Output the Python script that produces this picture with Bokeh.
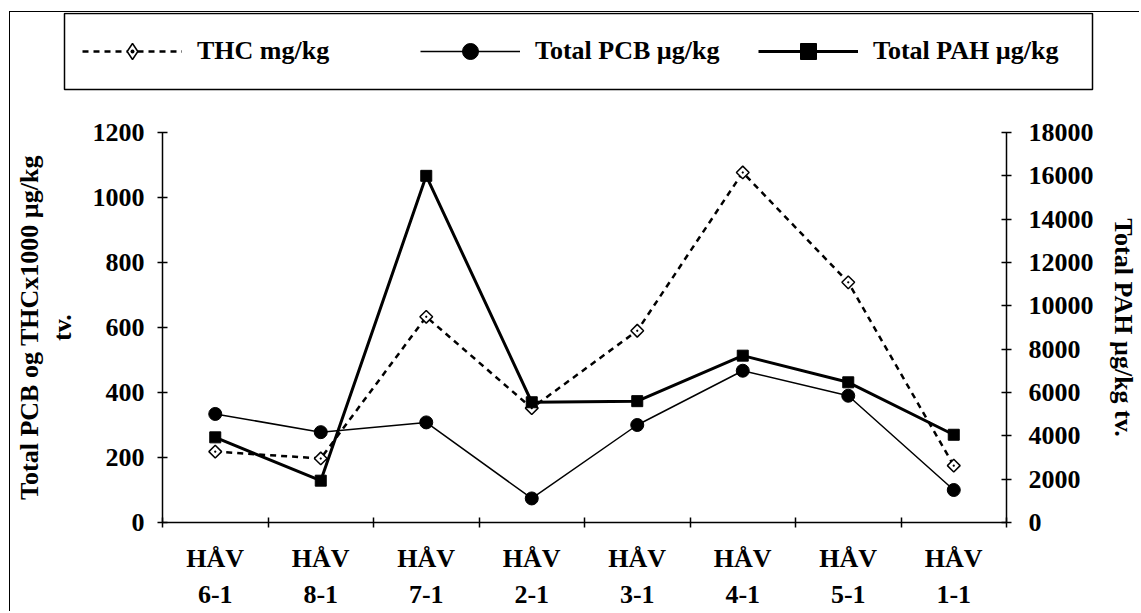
import math
from bokeh.plotting import figure
from bokeh.models import Range1d, LinearAxis, FixedTicker, Legend, LegendItem
from bokeh.embed import file_html
from bokeh.resources import INLINE

# ---- data ----
site_prefix = ["HÅV"] * 8
site_ids = ["6-1", "8-1", "7-1", "2-1", "3-1", "4-1", "5-1", "1-1"]
thc = [218, 197, 633, 352, 590, 1077, 739, 175]          # left axis (THC x1000)
pcb = [334, 278, 308, 74, 300, 467, 390, 100]             # left axis
pah = [3930, 1930, 16000, 5550, 5600, 7700, 6470, 4050]   # right axis
left_ticks = [0, 200, 400, 600, 800, 1000, 1200]
right_ticks = [0, 2000, 4000, 6000, 8000, 10000, 12000, 14000, 16000, 18000]
legend_labels = ["THC mg/kg", "Total PCB µg/kg", "Total PAH µg/kg"]

FONT = "Liberation Serif"
FS = "26px"
W = 1130

n = len(site_ids)
xs = [i + 0.5 for i in range(n)]

p = figure(width=W, height=499,
           x_range=Range1d(0, n), y_range=Range1d(left_ticks[0], left_ticks[-1]),
           output_backend="svg", toolbar_location=None,
           min_border_left=152, min_border_right=127,
           min_border_top=20, min_border_bottom=89)
p.outline_line_color = None
p.xgrid.grid_line_color = None
p.ygrid.grid_line_color = None
p.extra_y_ranges = {"pah": Range1d(right_ticks[0], right_ticks[-1])}
p.styles = {"margin-left": "9px", "border-left": "1.5px solid black"}


def style_axis(ax):
    ax.axis_line_color = "black"
    ax.axis_line_width = 1.5
    ax.major_tick_line_color = "black"
    ax.major_tick_line_width = 1.5
    ax.minor_tick_line_color = "black"
    ax.minor_tick_line_width = 1.5
    ax.major_label_text_font = FONT
    ax.major_label_text_font_style = "bold"
    ax.major_label_text_font_size = FS
    ax.major_label_text_color = "black"
    ax.axis_label_text_font = FONT
    ax.axis_label_text_font_style = "bold"
    ax.axis_label_text_font_size = FS
    ax.axis_label_text_color = "black"


# x axis (first line of category labels): ticks at category boundaries
xa = p.xaxis[0]
style_axis(xa)
xa.ticker = FixedTicker(ticks=xs, minor_ticks=list(range(n + 1)))
xa.major_label_overrides = {x: c for x, c in zip(xs, site_prefix)}
xa.major_tick_in = 0
xa.major_tick_out = 0
xa.major_tick_line_color = None
xa.minor_tick_in = 5
xa.minor_tick_out = 5
xa.major_label_standoff = 16

# second line of category labels
xb = LinearAxis()
style_axis(xb)
xb.axis_line_color = None
xb.ticker = FixedTicker(ticks=xs, minor_ticks=[])
xb.major_label_overrides = {x: c for x, c in zip(xs, site_ids)}
xb.major_tick_in = 0
xb.major_tick_out = 0
xb.major_tick_line_color = None
xb.minor_tick_line_color = None
xb.major_label_standoff = 10
p.add_layout(xb, "below")

# left axis
ya = p.yaxis[0]
style_axis(ya)
ya.ticker = FixedTicker(ticks=left_ticks, minor_ticks=[])
ya.major_tick_in = 5
ya.major_tick_out = 5
ya.major_label_standoff = 13
ya.axis_label = "Total PCB og THCx1000 µg/kg\ntv."
ya.axis_label_standoff = 13
ya.axis_label_text_line_height = 1.13

# right axis
ra = LinearAxis(y_range_name="pah")
style_axis(ra)
ra.ticker = FixedTicker(ticks=right_ticks, minor_ticks=[])
ra.major_tick_in = 5
ra.major_tick_out = 5
ra.major_label_standoff = 17
ra.axis_label = "Total PAH µg/kg tv."
ra.axis_label_standoff = 12
p.add_layout(ra, "right")

# series
THC_STYLE = dict(line_color="black", line_width=2.5, line_dash="6 5")
THC_PT = dict(marker="square_dot", size=9, angle=math.pi / 4,
              fill_color="white", line_color="black", line_width=1.5)
PCB_STYLE = dict(line_color="black", line_width=1.5)
PCB_PT = dict(marker="circle", size=13, color="black")
PAH_STYLE = dict(line_color="black", line_width=3)
PAH_PT = dict(marker="square", size=11, color="black")

p.line(xs, thc, **THC_STYLE)
p.scatter(xs, thc, **THC_PT)
p.line(xs, pcb, **PCB_STYLE)
p.scatter(xs, pcb, **PCB_PT)
p.line(xs, pah, y_range_name="pah", **PAH_STYLE)
p.scatter(xs, pah, y_range_name="pah", **PAH_PT)

# ---- legend strip (separate root so the box can sit left of the plot frame) ----
LH = 101
lf = figure(width=W, height=LH, x_range=Range1d(0, W), y_range=Range1d(0, LH),
            output_backend="svg", toolbar_location=None,
            x_axis_type=None, y_axis_type=None,
            min_border_left=0, min_border_right=0, min_border_top=0, min_border_bottom=0)
lf.outline_line_color = None
lf.xgrid.grid_line_color = None
lf.ygrid.grid_line_color = None
lf.styles = {"margin-left": "9px", "margin-top": "11px",
             "border-left": "1.5px solid black", "border-top": "1.5px solid black"}
NAN = [math.nan]
LEG_THC_PT = dict(marker="diamond_dot", size=13, fill_color="white",
                  line_color="black", line_width=1.5)
l1 = lf.line(NAN, NAN, **THC_STYLE)
s1 = lf.scatter(NAN, NAN, **LEG_THC_PT)
l2 = lf.line(NAN, NAN, **PCB_STYLE)
s2 = lf.scatter(NAN, NAN, **PCB_PT)
l3 = lf.line(NAN, NAN, **PAH_STYLE)
s3 = lf.scatter(NAN, NAN, **PAH_PT)

PAD, SPACING, GW, GH, LW, STAND = 18, 22, 100, 40, 201, 15
LX, LY = 54, 24
# legend border is drawn separately, so its own padding collapses to 0;
# the padding is applied through the location instead
legend = Legend(items=[
    LegendItem(label=legend_labels[0], renderers=[l1, s1]),
    LegendItem(label=legend_labels[1], renderers=[l2, s2]),
    LegendItem(label=legend_labels[2], renderers=[l3, s3]),
], orientation="horizontal", location=(LX + PAD, LY + PAD),
    border_line_color=None, background_fill_alpha=0,
    padding=0, spacing=SPACING, margin=0,
    glyph_width=GW, glyph_height=GH, label_width=LW, label_height=GH,
    label_standoff=STAND,
    label_text_font=FONT, label_text_font_style="bold",
    label_text_font_size=FS, label_text_color="black")
lf.add_layout(legend, "center")

# legend frame drawn from the legend's own layout parameters
n_items = len(legend_labels)
box_w = 2 * PAD + n_items * (GW + STAND + LW) + (n_items - 1) * SPACING
box_h = 2 * PAD + GH
lf.quad(left=[LX], right=[LX + box_w], bottom=[LY], top=[LY + box_h],
        fill_color=None, line_color="black", line_width=1.5)

open("out.html", "w").write(file_html([lf, p], INLINE))
